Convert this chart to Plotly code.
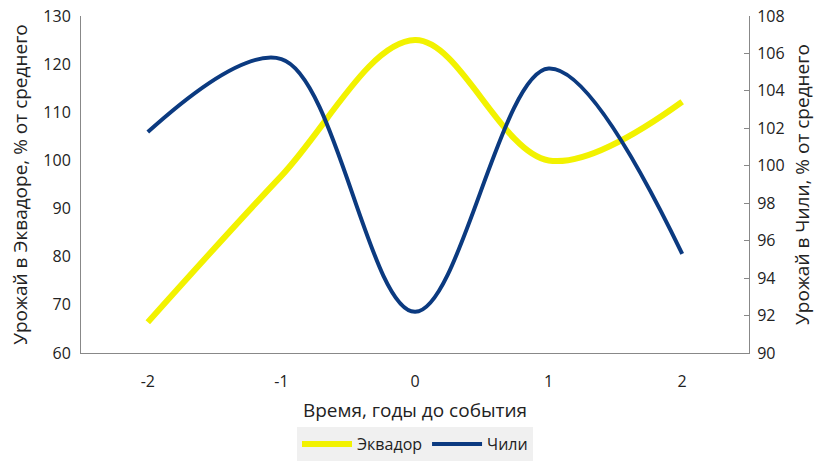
import plotly.graph_objects as go

years = [-2, -1, 0, 1, 2]
ecuador = [66.4, 96.8, 125.0, 100.0, 112.2]
chile = [101.8, 105.7, 92.2, 105.2, 95.3]

font = "Open Sans"

trace0 = go.Scatter(x=years, y=ecuador, mode='lines', name='Эквадор',
                    line=dict(color='#f2f200', width=6, shape='spline', smoothing=1),
                    yaxis='y')
trace1 = go.Scatter(x=years, y=chile, mode='lines', name='Чили',
                    line=dict(color='#0b3a80', width=4, shape='spline', smoothing=1),
                    yaxis='y2')

layout = go.Layout(
    width=835, height=473,
    margin=dict(l=81, r=86, t=16, b=120),
    paper_bgcolor='white', plot_bgcolor='white',
    font=dict(family=font, size=16, color='#222'),
    xaxis=dict(range=[-2.5, 2.5], tickvals=years, ticktext=[str(v) for v in years],
               showgrid=False, zeroline=False, showline=True, linecolor='#888',
               linewidth=1, ticks='', ticklabelstandoff=14, automargin=False,
               tickfont=dict(size=16),
               title=dict(text='Время, годы до события', standoff=12)),
    yaxis=dict(range=[60, 130], dtick=10, showgrid=False, zeroline=False,
               showline=True, linecolor='#888', ticks='', automargin=False,
               tickfont=dict(size=16), ticklabelstandoff=6,
               title=dict(text='Урожай в Эквадоре, % от среднего', standoff=10)),
    yaxis2=dict(range=[90, 108], dtick=2, overlaying='y', side='right',
                showgrid=False, zeroline=False, showline=True, linecolor='#888',
                ticks='inside', ticklen=5, tickcolor='#888', automargin=False,
                tickfont=dict(size=16), ticklabelstandoff=4,
                title=dict(text='Урожай в Чили, % от среднего', standoff=12)),
    legend=dict(orientation='h', x=0.5, xanchor='center', y=-0.22, yanchor='top',
                bgcolor='#f0f0f0', font=dict(size=16), itemwidth=50),
    showlegend=True,
)

fig = go.Figure(data=[trace0, trace1], layout=layout)
# drop the default 8px body margin so the figure fills the window exactly
fig.write_html("out.html", config={'displayModeBar': False},
               post_script="document.body.style.margin='0';")
